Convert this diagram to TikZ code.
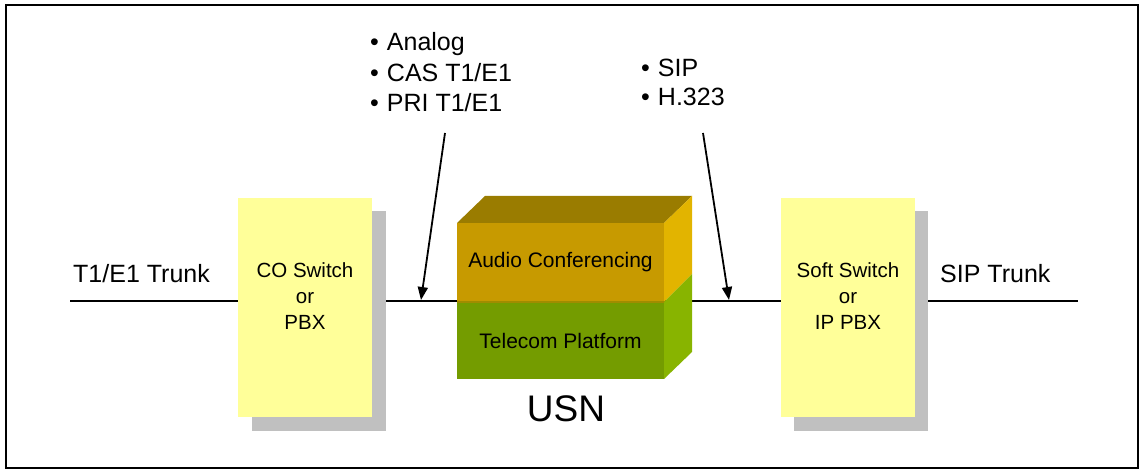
\documentclass[tikz,border=0pt]{standalone}
\usepackage{fontspec}
\setmainfont{Liberation Sans}
\usetikzlibrary{arrows.meta}
\definecolor{boxyellow}{HTML}{FFFF99}
\definecolor{shadowgray}{HTML}{C0C0C0}
\definecolor{cubetop}{HTML}{9A7C00}
\definecolor{orangefront}{HTML}{C79A00}
\definecolor{orangeside}{HTML}{E2B400}
\definecolor{greenfront}{HTML}{749C00}
\definecolor{greenside}{HTML}{88B400}
\definecolor{seam}{HTML}{A08C00}
\begin{document}
\begin{tikzpicture}[x=1pt,y=-1pt,
  devbox/.style={draw=none, fill=boxyellow, minimum width=134pt, minimum height=219pt, inner sep=0pt},
  shadowbox/.style={draw=none, fill=shadowgray, minimum width=134pt, minimum height=219pt, inner sep=0pt},
  devtext/.style={align=center, font=\fontsize{20.5}{26}\selectfont, inner sep=0pt},
  tlabel/.style={font=\fontsize{25}{30}\selectfont, inner sep=0pt, anchor=base west},
  wire/.style={line width=1.5pt},
  pointer/.style={line width=1.8pt, -{Triangle[length=13pt,width=10pt]}},
  face/.style={draw=none, inner sep=0pt, minimum width=207pt, font=\fontsize{21}{25}\selectfont}
]
\useasboundingbox (0,0) rectangle (1144,470);
\draw[line width=2pt] (6,5) rectangle (1138,468);

% main wire
\coordinate (lt) at (70,301);
\coordinate (rt) at (1078,301);
\draw[wire] (lt) -- (rt);

% left device
\node[shadowbox] (coshadow) at (319,321) {};
\node[devbox] (co) at (305,307.5) {};
\node[devtext] (cotext) at ([yshift=11pt]co.center) {CO Switch\\or\\PBX};

% right device
\node[shadowbox] (ssshadow) at (861,321) {};
\node[devbox] (ss) at (848,307.5) {};
\node[devtext] (sstext) at ([yshift=11pt]ss.center) {Soft Switch\\or\\IP PBX};

% cube
\fill[cubetop] (457,223) -- (485,196) -- (692,196) -- (664,223) -- cycle;
\fill[orangeside] (664,223) -- (692,196) -- (692,274) -- (664,302) -- cycle;
\fill[greenside] (664,302) -- (692,274) -- (692,352) -- (664,379) -- cycle;
\node[face, fill=orangefront, minimum height=79pt] (audio) at (560.5,262.5) {Audio Conferencing};
\node[face, fill=greenfront, minimum height=77pt] (telecom) at (560.5,340.5) {Telecom Platform};
\draw[seam, line width=1.5pt] (audio.south west) -- (audio.south east);
\node[font=\fontsize{37}{40}\selectfont, inner sep=0pt, anchor=base] (usn) at (566,421) {USN};

% labels
\node[tlabel] (t1) at (73,283) {T1/E1 Trunk};
\node[tlabel] (sipt) at (940,283) {SIP Trunk};

\node[tlabel] (b1) at (370,51) {•\hspace{8pt}Analog};
\node[tlabel] (b2) at (370,82) {•\hspace{8pt}CAS T1/E1};
\node[tlabel] (b3) at (370,112) {•\hspace{8pt}PRI T1/E1};
\node[tlabel] (c1) at (641,77) {•\hspace{8pt}SIP};
\node[tlabel] (c2) at (641,106) {•\hspace{8pt}H.323};

% pointers
\coordinate (s1) at (445,133);
\coordinate (e1) at (421,300);
\coordinate (s2) at (703,133);
\coordinate (e2) at (729,300);
\draw[pointer] (s1) -- (e1);
\draw[pointer] (s2) -- (e2);
\end{tikzpicture}
\end{document}
